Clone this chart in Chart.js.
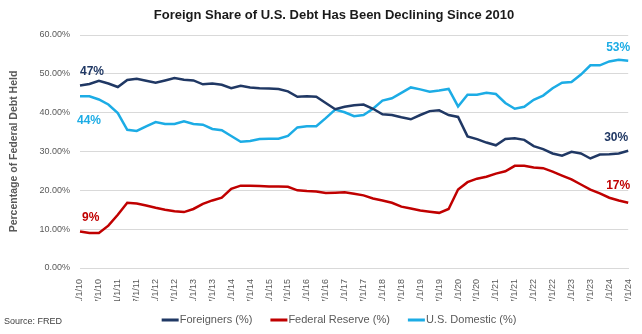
<!DOCTYPE html>
<html>
<head>
<meta charset="utf-8">
<script src="https://cdn.jsdelivr.net/npm/chart.js@4.4.1/dist/chart.umd.min.js"></script>
<style>
  html, body { margin: 0; padding: 0; background: #fff; }
</style>
</head>
<body>
<canvas id="chart" width="642" height="334"></canvas>
<script>
const quarters = [
  '1/1/10','4/1/10','7/1/10','10/1/10','1/1/11','4/1/11','7/1/11','10/1/11',
  '1/1/12','4/1/12','7/1/12','10/1/12','1/1/13','4/1/13','7/1/13','10/1/13',
  '1/1/14','4/1/14','7/1/14','10/1/14','1/1/15','4/1/15','7/1/15','10/1/15',
  '1/1/16','4/1/16','7/1/16','10/1/16','1/1/17','4/1/17','7/1/17','10/1/17',
  '1/1/18','4/1/18','7/1/18','10/1/18','1/1/19','4/1/19','7/1/19','10/1/19',
  '1/1/20','4/1/20','7/1/20','10/1/20','1/1/21','4/1/21','7/1/21','10/1/21',
  '1/1/22','4/1/22','7/1/22','10/1/22','1/1/23','4/1/23','7/1/23','10/1/23',
  '1/1/24','4/1/24','7/1/24'
];

const foreigners = [
  47.0, 47.4, 48.2, 47.5, 46.6, 48.4, 48.7, 48.2,
  47.7, 48.3, 48.9, 48.5, 48.3, 47.3, 47.5, 47.2,
  46.3, 46.9, 46.5, 46.3, 46.2, 46.1, 45.5, 44.1,
  44.2, 44.1, 42.5, 40.9, 41.5, 41.9, 42.1, 41.0,
  39.6, 39.4, 38.8, 38.3, 39.4, 40.4, 40.6, 39.4,
  38.9, 33.9, 33.2, 32.3, 31.6, 33.2, 33.4, 33.0,
  31.4, 30.6, 29.5, 28.9, 29.9, 29.5, 28.2, 29.2,
  29.3, 29.5, 30.2
];

const fedReserve = [
  9.4, 9.0, 9.0, 10.9, 13.7, 16.8, 16.6, 16.1,
  15.5, 15.0, 14.6, 14.4, 15.2, 16.5, 17.4, 18.1,
  20.4, 21.2, 21.2, 21.1, 21.0, 21.0, 20.9, 20.0,
  19.8, 19.7, 19.3, 19.4, 19.5, 19.1, 18.7, 17.9,
  17.4, 16.8, 15.8, 15.3, 14.8, 14.5, 14.2, 15.2,
  20.2, 22.1, 23.0, 23.5, 24.3, 24.9, 26.3, 26.3,
  25.9, 25.7, 24.8, 23.8, 22.8, 21.5, 20.2, 19.2,
  18.1, 17.4, 16.8
];

const domestic = [
  44.2, 44.2, 43.4, 42.1, 39.9, 35.6, 35.3, 36.5,
  37.6, 37.1, 37.1, 37.8, 37.1, 36.9, 35.8, 35.5,
  34.0, 32.5, 32.7, 33.2, 33.3, 33.3, 34.0, 36.2,
  36.5, 36.5, 38.6, 40.8, 40.1, 39.1, 39.4, 41.0,
  43.1, 43.7, 45.1, 46.5, 46.0, 45.4, 45.7, 46.1,
  41.6, 44.6, 44.6, 45.1, 44.8, 42.5, 41.0, 41.5,
  43.3, 44.4, 46.3, 47.7, 47.9, 49.8, 52.2, 52.2,
  53.2, 53.6, 53.4
];

const seriesNames = ['Foreigners (%)', 'Federal Reserve (%)', 'U.S. Domestic (%)'];
const seriesColors = ['#203864', '#C00000', '#1CACE5'];
const yTicks = [0, 10, 20, 30, 40, 50, 60];

const FONT = "'Liberation Sans', Arial, sans-serif";
const GREY = '#595959';

// chart title, drawn a little right of the canvas centre like the original
const titleText = {
  id: 'titleText',
  afterDraw(chart) {
    const ctx = chart.ctx;
    ctx.save();
    ctx.font = "bold 13px " + FONT;
    ctx.fillStyle = '#1a1a1a';
    ctx.textAlign = 'center';
    ctx.textBaseline = 'middle';
    ctx.fillText('Foreign Share of U.S. Debt Has Been Declining Since 2010', 334, 15);
    ctx.restore();
  }
};

// legend at the bottom: short line swatch hugging the label text
const bottomLegend = {
  id: 'bottomLegend',
  afterDraw(chart) {
    const ctx = chart.ctx;
    const sw = 17, gap = 1, itemGap = 18, cy = 320, cx = 339;
    ctx.save();
    ctx.font = "11px " + FONT;
    ctx.textBaseline = 'middle';
    ctx.textAlign = 'left';
    const widths = chart.data.datasets.map(d => ctx.measureText(d.label).width);
    const total = widths.reduce((a, w) => a + sw + gap + w, 0) + itemGap * (widths.length - 1);
    let x = cx - total / 2;
    chart.data.datasets.forEach((d, i) => {
      ctx.fillStyle = d.borderColor;
      ctx.fillRect(x, cy - 1.5, sw, 3);
      ctx.fillStyle = GREY;
      ctx.fillText(d.label, x + sw + gap, cy);
      x += sw + gap + widths[i] + itemGap;
    });
    ctx.restore();
  }
};

// start / end value labels, placed next to the first and last points
const endLabels = {
  id: 'endLabels',
  afterDatasetsDraw(chart) {
    const ctx = chart.ctx;
    const spots = [
      // dataset, which end, dx, dy, align
      [0, 'first', 0, -14, 'left'],
      [2, 'first', -3, 24, 'left'],
      [1, 'first', 2, -14, 'left'],
      [2, 'last', 2, -13, 'right'],
      [0, 'last', 0, -13, 'right'],
      [1, 'last', 2, -17, 'right']
    ];
    ctx.save();
    ctx.font = "bold 12px " + FONT;
    ctx.textBaseline = 'middle';
    spots.forEach(([di, end, dx, dy, align]) => {
      const meta = chart.getDatasetMeta(di);
      const data = chart.data.datasets[di].data;
      const idx = end === 'first' ? 0 : data.length - 1;
      const pt = meta.data[idx];
      ctx.fillStyle = seriesColors[di];
      ctx.textAlign = align;
      ctx.fillText(Math.round(data[idx]) + '%', pt.x + dx, pt.y + dy);
    });
    ctx.restore();
  }
};

const sourceNote = {
  id: 'sourceNote',
  afterDraw(chart) {
    const ctx = chart.ctx;
    ctx.save();
    ctx.font = "9px " + FONT;
    ctx.fillStyle = '#404040';
    ctx.textAlign = 'left';
    ctx.textBaseline = 'middle';
    ctx.fillText('Source: FRED', 4, 322);
    ctx.restore();
  }
};

const ctx = document.getElementById('chart').getContext('2d');
new Chart(ctx, {
  type: 'line',
  data: {
    labels: quarters,
    datasets: [foreigners, fedReserve, domestic].map((d, i) => ({
      label: seriesNames[i],
      data: d,
      borderColor: seriesColors[i],
      backgroundColor: seriesColors[i],
      borderWidth: 2.5,
      pointRadius: 0,
      tension: 0
    }))
  },
  options: {
    responsive: false,
    animation: false,
    layout: { padding: { left: 4, right: 10, top: 35, bottom: 33 } },
    plugins: {
      title: { display: false },
      legend: { display: false },
      tooltip: { enabled: false }
    },
    scales: {
      x: {
        grid: { display: false, drawOnChartArea: false },
        border: { color: '#D9D9D9' },
        ticks: {
          color: GREY,
          font: { family: FONT, size: 9 },
          autoSkip: false,
          minRotation: 90,
          maxRotation: 90,
          padding: 3,
          callback: (v, i) => (i % 2 === 0 ? quarters[i] : '')
        },
        afterFit: (s) => { s.height = 33; }
      },
      y: {
        min: yTicks[0],
        max: yTicks[yTicks.length - 1],
        afterBuildTicks: (s) => { s.ticks = yTicks.map(v => ({ value: v })); },
        grid: { color: '#D9D9D9', drawTicks: false },
        border: { display: false },
        ticks: {
          color: GREY,
          font: { family: FONT, size: 9 },
          padding: 10,
          callback: (v) => v.toFixed(2) + '%'
        },
        title: {
          display: true,
          text: 'Percentage of Federal Debt Held',
          color: GREY,
          font: { family: FONT, size: 10.5, weight: 'bold' },
          padding: { bottom: 6 }
        },
        afterFit: (s) => { s.width = 76; }
      }
    }
  },
  plugins: [titleText, bottomLegend, endLabels, sourceNote]
});
</script>
</body>
</html>
